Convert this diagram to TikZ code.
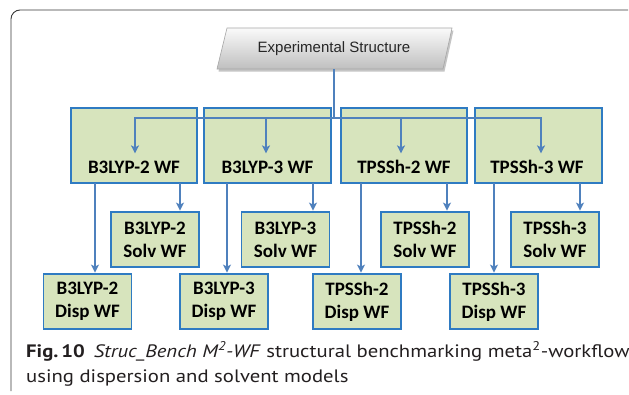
\documentclass[tikz,border=0pt]{standalone}
\usepackage{fontspec}
\setmainfont{PT Sans}
\newfontfamily\capfont[FakeStretch=1.15]{PT Sans}
\newfontfamily\cali{Carlito}
\newfontfamily\arialf{Liberation Sans}
\usetikzlibrary{arrows.meta,shadows}
\definecolor{boxfill}{HTML}{D7E4BD}
\definecolor{boxline}{HTML}{2F7BC2}
\definecolor{arrline}{HTML}{4F81BD}
\definecolor{framec}{HTML}{3A3A3A}
\definecolor{captext}{HTML}{231F20}
\begin{document}
\begin{tikzpicture}[x=1pt,y=-1pt,
  wfbox/.style={draw=boxline, line width=1.6pt, fill=boxfill, inner sep=0pt},
  topbox/.style={wfbox, minimum height=75pt},
  sub/.style={wfbox, minimum width=88pt, minimum height=55pt, align=center, font=\cali\bfseries\fontsize{19}{23}\selectfont},
  toplab/.style={font=\cali\bfseries\fontsize{19}{23}\selectfont, inner sep=0pt},
  conn/.style={draw=arrline, line width=1.6pt},
  arr/.style={conn, -{Stealth[length=8pt,width=8pt,inset=2pt]}, shorten >=0.6pt},
]
\useasboundingbox (0,0) rectangle (629,394);
\fill[white] (0,0) rectangle (629,394);
\draw[framec, line width=0.9pt, rounded corners=9pt] (11,391) -- (11,10) -- (628,10);

% top parallelogram
\path[drop shadow={shadow xshift=1.5pt, shadow yshift=-2.5pt, opacity=0.45},
      top color=gray!4, bottom color=gray!50, draw=gray!70, line width=0.6pt]
  (227,28) -- (452,28) -- (443,69) -- (217,69) -- cycle;
\node[font=\arialf\fontsize{15}{18}\selectfont, inner sep=0pt, text=black!85] (ES) at (334,49) {Experimental Structure};
\coordinate (ESb) at (334,69);

% top workflow boxes
\node[topbox, minimum width=126pt] (B1) at (134,145.5) {};
\node[topbox, minimum width=127pt] (B2) at (267.5,145.5) {};
\node[topbox, minimum width=126pt] (B3) at (404,145.5) {};
\node[topbox, minimum width=127pt] (B4) at (538.5,145.5) {};
\node[toplab] (L1) at (134,167) {B3LYP-2 WF};
\node[toplab] (L2) at (267.5,167) {B3LYP-3 WF};
\node[toplab] (L3) at (404,167) {TPSSh-2 WF};
\node[toplab] (L4) at (537,167) {TPSSh-3 WF};

% sub workflow boxes
\node[sub] (S1) at (155,239.5) {B3LYP-2\\Solv WF};
\node[sub] (D1) at (87.5,301.5) {B3LYP-2\\Disp WF};
\node[sub] (S2) at (285.5,239.5) {B3LYP-3\\Solv WF};
\node[sub] (D2) at (224,301.5) {B3LYP-3\\Disp WF};
\node[sub] (S3) at (425,239.5) {TPSSh-2\\Solv WF};
\node[sub] (D3) at (357,301.5) {TPSSh-2\\Disp WF};
\node[sub] (S4) at (555,239.5) {TPSSh-3\\Solv WF};
\node[sub] (D4) at (494,301.5) {TPSSh-3\\Disp WF};

% bus
\coordinate (bus) at (334,118);
\coordinate (bus1) at (135,118);
\coordinate (bus2) at (266,118);
\coordinate (bus3) at (401,118);
\coordinate (bus4) at (541,118);
\coordinate (t1) at (135,154);
\coordinate (t2) at (266,154);
\coordinate (t3) at (401,154);
\coordinate (t4) at (541,154);
\draw[conn] (ESb) -- (bus);
\draw[conn, line cap=rect] (bus1) -- (bus4);
\draw[arr] (bus1) -- (t1);
\draw[arr] (bus2) -- (t2);
\draw[arr] (bus3) -- (t3);
\draw[arr] (bus4) -- (t4);

% sub arrows
\coordinate (d1) at (95,183);
\coordinate (s1) at (180,183);
\coordinate (d2) at (227,183);
\coordinate (s2) at (313,183);
\coordinate (d3) at (361,183);
\coordinate (s3) at (447,183);
\coordinate (d4) at (494,183);
\coordinate (s4) at (580,183);
\draw[arr] (d1) -- (d1 |- D1.north);
\draw[arr] (s1) -- (s1 |- S1.north);
\draw[arr] (d2) -- (d2 |- D2.north);
\draw[arr] (s2) -- (s2 |- S2.north);
\draw[arr] (d3) -- (d3 |- D3.north);
\draw[arr] (s3) -- (s3 |- S3.north);
\draw[arr] (d4) -- (d4 |- D4.north);
\draw[arr] (s4) -- (s4 |- S4.north);

% caption
\node[anchor=base west, inner sep=0pt, align=left, text=captext,
      font=\capfont\fontsize{18}{25}\selectfont] (cap) at (26,382)
  {\textbf{Fig.\,10}\enspace\textit{Struc\_Bench M\textsuperscript{2}-WF} structural benchmarking meta\textsuperscript{2}-workflow\\using dispersion and solvent models};
\end{tikzpicture}
\end{document}
